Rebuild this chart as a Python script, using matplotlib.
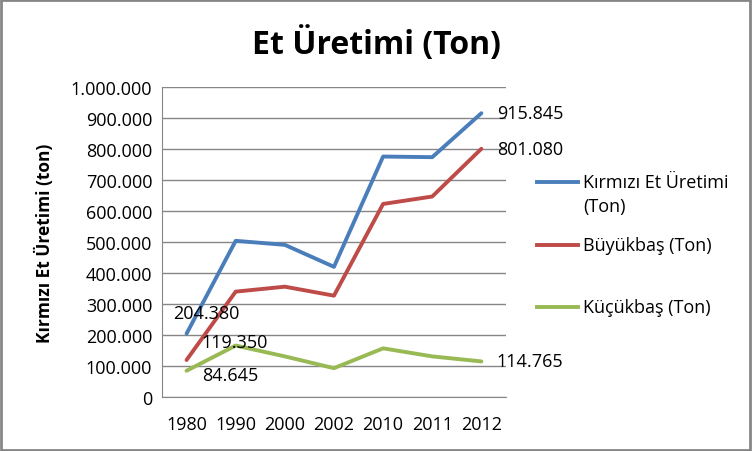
import matplotlib.pyplot as plt
from matplotlib.lines import Line2D
from matplotlib.ticker import FuncFormatter

years = ["1980", "1990", "2000", "2002", "2010", "2011", "2012"]
kirmizi = [204380, 504000, 491000, 420000, 776000, 774000, 915845]
buyukbas = [119350, 340000, 356000, 327000, 623000, 647000, 801080]
kucukbas = [84645, 166000, 131000, 93000, 157000, 131000, 114765]

names = ["Kırmızı Et Üretimi\n(Ton)", "Büyükbaş (Ton)", "Küçükbaş (Ton)"]
colors = ["#4a7ebb", "#be4b48", "#98b954"]

plt.rcParams['font.family'] = ['Open Sans', 'DejaVu Sans']


def dotted(v, pos=None):
    return f"{int(round(v)):,}".replace(",", ".")


fig = plt.figure(figsize=(7.52, 4.52), dpi=100)
ax = fig.add_axes([0.2154, 0.1195, 0.4574, 0.6855])

x = range(len(years))
for vals, name, col in zip([kirmizi, buyukbas, kucukbas], names, colors):
    ax.plot(x, vals, color=col, lw=2.8, label=name, solid_capstyle="round")

ax.set_xlim(-0.5, len(years) - 0.5)
ax.set_ylim(0, 1000000)
ax.set_yticks(range(0, 1000001, 100000))
ax.yaxis.set_major_formatter(FuncFormatter(dotted))
ax.set_xticks(list(x))
ax.set_xticklabels(years)
ax.tick_params(length=0, labelsize=13, colors="black", pad=7)
ax.tick_params(axis="x", pad=13)
ax.grid(axis="y", color="#868686", lw=1)
ax.set_axisbelow(True)
for s in ["top", "right"]:
    ax.spines[s].set_visible(False)
for s in ["left", "bottom"]:
    ax.spines[s].set_color("#868686")

ax.set_ylabel("Kırmızı Et Üretimi (ton)", fontsize=12.5, fontweight="bold", labelpad=12)
fig.suptitle("Et Üretimi (Ton)", fontsize=23, fontweight="bold", y=0.94)

# data labels
ax.annotate(dotted(kirmizi[0]), (0, kirmizi[0]), xytext=(-10, 15), textcoords="offset points",
            fontsize=13, va="center")
ax.annotate(dotted(buyukbas[0]), (0, buyukbas[0]), xytext=(11, 13), textcoords="offset points",
            fontsize=13, va="center")
ax.annotate(dotted(kucukbas[0]), (0, kucukbas[0]), xytext=(11, -3), textcoords="offset points",
            fontsize=13, va="center")
for vals in [kirmizi, buyukbas, kucukbas]:
    ax.annotate(dotted(vals[-1]), (6, vals[-1]), xytext=(11, 0), textcoords="offset points",
                fontsize=13, va="center", clip_on=False)

# legend, handle aligned with the first text line as in the original
leg_y = [0.595, 0.456, 0.319]
for name, col, y in zip(names, colors, leg_y):
    fig.add_artist(Line2D([0.714, 0.769], [y, y], color=col, lw=2.8, transform=fig.transFigure))
    first, *rest = name.split("\n")
    fig.text(0.775, y, first, fontsize=13, va="center")
    for k, line in enumerate(rest, 1):
        fig.text(0.775, y - 0.053 * k, line, fontsize=13, va="center")

fig.patches.append(plt.Rectangle((0.001, 0.002), 0.997, 0.996, transform=fig.transFigure,
                                 fill=False, edgecolor="#868686", lw=2))
fig.savefig("out.png", dpi=100)
